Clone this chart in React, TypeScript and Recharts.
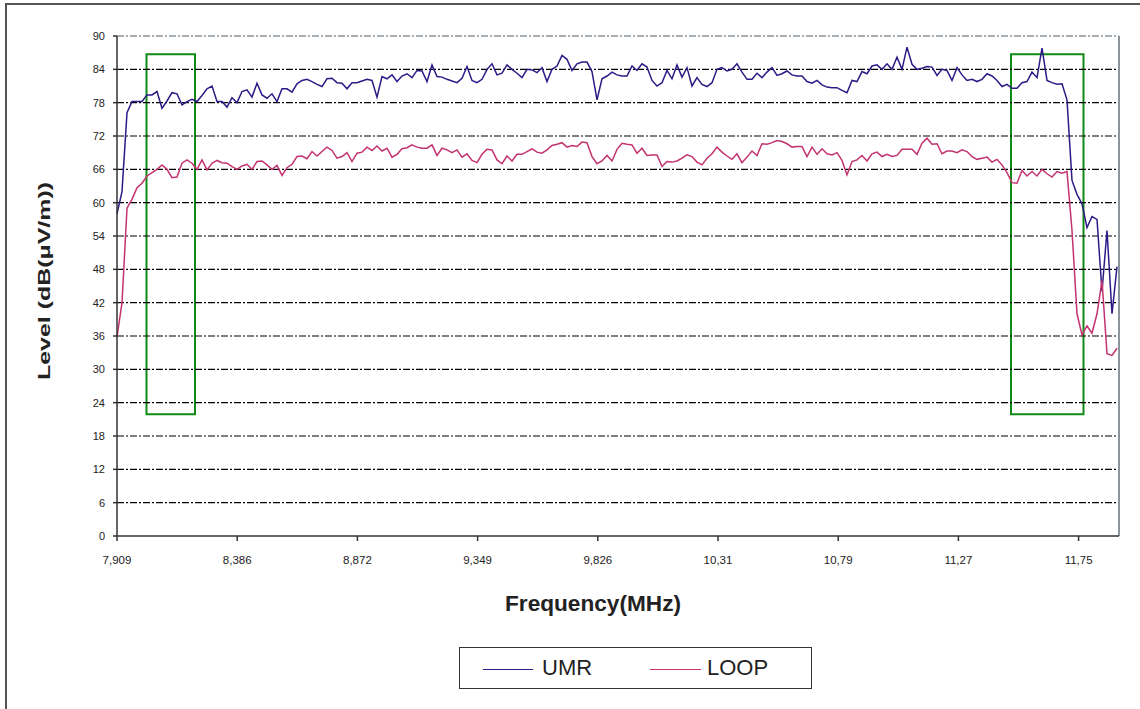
import React from 'react';
import { LineChart, Line, XAxis, YAxis, ReferenceLine, ReferenceArea, Label } from 'recharts';

// x tick labels (Frequency, MHz) shown every SAMPLES_PER_TICK samples
const TICK_LABELS = ['7,909', '8,386', '8,872', '9,349', '9,826', '10,31', '10,79', '11,27', '11,75'];
const SAMPLES_PER_TICK = 24.04;
const X_MAX = 200.4;

const Y_TICKS = [0, 6, 12, 18, 24, 30, 36, 42, 48, 54, 60, 66, 72, 78, 84, 90];
const GRID_LEVELS = [6, 12, 18, 24, 30, 36, 42, 48, 54, 60, 66, 72, 78, 84];

// UMR level, dB(uV/m)
const UMR = [
  58, 62, 76.2, 78.2, 78.2, 78.2, 79.4, 79.4, 80, 77,
  78.3, 79.8, 79.6, 77.6, 78.2, 78.6, 78.2, 79.3, 80.5, 81,
  78.2, 78.2, 77.2, 78.9, 78, 80, 80.3, 79, 81.5, 79.4,
  78.8, 79.6, 78.2, 80.5, 80.5, 79.9, 81.4, 82, 82.2, 81.8,
  81.3, 80.9, 82.3, 82.4, 81.6, 81.5, 80.5, 81.6, 81.6, 81.9,
  82.2, 82, 79, 82.7, 82.3, 83, 81.8, 82.8, 83.2, 82.5,
  83.8, 83.7, 81.8, 84.8, 82.7, 82.6, 82.2, 81.9, 81.6, 82.4,
  84.5, 82, 81.6, 82.2, 84, 85, 83, 83.3, 84.8, 84,
  83.3, 82.5, 84, 83.9, 83.4, 84.3, 81.8, 84, 84.6, 86.5,
  85.8, 83.8, 85, 85.3, 85.3, 83.6, 78.5, 82.3, 82.8, 83.5,
  83, 82.8, 82.8, 84.6, 83.8, 85, 84.4, 82, 81, 81.6,
  83.8, 82.3, 84.8, 82.6, 84.3, 81, 82.5, 81.3, 80.9, 81.6,
  84, 84.3, 83.7, 84, 85, 83.5, 82.2, 82.2, 83.3, 82.5,
  83.5, 84.3, 82.9, 83.2, 83.7, 83, 82.8, 82.8, 81.8, 81.5,
  82, 81.2, 80.8, 80.7, 80.7, 80.2, 79.8, 82, 81.8, 83.6,
  83.2, 84.6, 84.8, 84, 85, 84, 86.2, 84, 88, 84.9,
  84, 84.2, 84.5, 84.4, 82.9, 84, 83.8, 82, 84.3, 83,
  82, 82.2, 81.8, 82.2, 83.2, 82.8, 82, 80.9, 81.3, 80.6,
  80.6, 81.6, 81.8, 83.5, 82.5, 87.8, 82, 81.6, 81.3, 81.4,
  78.5, 64, 61.5, 59.8, 55.5, 57.5, 57, 44, 55, 40, 48.5,
];

// LOOP level, dB(uV/m)
const LOOP = [
  35.8, 42, 59, 60.6, 62.7, 63.5, 64.8, 65.4, 66, 66.8,
  66, 64.5, 64.6, 67.1, 67.7, 67.1, 66, 67.7, 65.9, 67.1,
  67.6, 67.2, 67.1, 66.5, 66, 66.6, 66.9, 66, 67.4, 67.5,
  66.8, 66, 66.7, 64.9, 66.3, 66.9, 68.3, 68.4, 67.9, 69.2,
  68.4, 69.2, 70, 69.4, 68, 68.3, 69, 67.4, 68.9, 69.1,
  70, 69.4, 70.2, 69.3, 69.8, 68.2, 68.7, 69.7, 69.9, 70.4,
  70, 69.8, 69.8, 70.4, 68.5, 69.8, 69.5, 69, 69.5, 68.2,
  68.8, 67.6, 67.2, 68.7, 69.6, 69.5, 67.7, 67, 68.4, 67.5,
  68.7, 68.7, 69.2, 69.7, 69.1, 68.9, 69.5, 70.3, 70.5, 70.8,
  70, 70.3, 70.1, 70.9, 70.8, 68.3, 67, 67.5, 68.5, 67.5,
  69.6, 70.7, 70.5, 70.4, 68.9, 69.8, 68.5, 68.6, 68.6, 66.5,
  67.4, 67.3, 67.5, 68, 68.6, 68.3, 67.3, 66.8, 68, 68.8,
  70, 69.1, 68.4, 67.8, 68.8, 67.2, 68.2, 69.3, 68.5, 70.6,
  70.5, 70.8, 71.2, 71, 70.6, 70, 70.1, 70.1, 68.3, 70,
  68.7, 69.7, 68.8, 68.6, 69, 67.6, 65, 67.4, 67.7, 68.5,
  67.5, 68.8, 69.1, 68.3, 68.7, 68.3, 68.5, 69.6, 69.6, 69.6,
  68.7, 70.7, 71.6, 70.5, 70.6, 68.8, 69.3, 69.3, 69, 69.5,
  69.2, 68.3, 67.8, 68, 68.2, 67.3, 67.8, 66.8, 65.4, 63.6,
  63.5, 65.8, 64.8, 65.6, 64.8, 66, 65.2, 64.6, 65.6, 65.3,
  65.6, 55, 40, 36.2, 37.8, 36.5, 40, 46, 32.8, 32.5, 33.8,
];

// highlighted regions (sample index, level)
const BOX_X1 = [5.9, 178.8];
const BOX_X2 = [15.6, 193.3];
const BOX_Y = [21.9, 86.7];

const data = UMR.map((v, i) => ({ i, umr: v, loop: LOOP[i] }));
const xTicks = TICK_LABELS.map((_, k) => k * SAMPLES_PER_TICK);

const FONT = '"Liberation Sans", Arial, sans-serif';
const UMR_COLOR = '#2e1a86';
const LOOP_COLOR = '#c2336f';

export default function App() {
  return (
    <div style={{ position: 'absolute', left: 0, top: 0, width: 1140, height: 709, overflow: 'hidden', background: '#fff', fontFamily: FONT }}>
      <div style={{ position: 'absolute', left: 5, top: 3, width: 1200, height: 800, borderLeft: '2px solid #555', borderTop: '2px solid #555' }} />
      <LineChart width={1140} height={709} data={data} margin={{ top: 36, right: 21, bottom: 143, left: 0 }}>
        <XAxis
          dataKey="i"
          type="number"
          domain={[0, X_MAX]}
          ticks={xTicks}
          tickFormatter={(v: number) => TICK_LABELS[Math.round(v / SAMPLES_PER_TICK)]}
          interval={0}
          height={30}
          tickSize={5}
          tickMargin={15}
          axisLine={{ stroke: '#333', strokeWidth: 1.5 }}
          tickLine={{ stroke: '#333', strokeWidth: 1.5 }}
          tick={{ fill: '#222', fontSize: 11.5, fontFamily: FONT }}
        >
          <Label
            content={() => (
              <text x={593} y={611} textAnchor="middle" fontFamily={FONT} fontWeight="bold" fontSize={22} fill="#222" textLength={176} lengthAdjust="spacingAndGlyphs">
                Frequency(MHz)
              </text>
            )}
          />
        </XAxis>
        <YAxis
          type="number"
          domain={[0, 90]}
          ticks={Y_TICKS}
          interval={0}
          width={117}
          tickSize={4}
          tickMargin={8}
          axisLine={{ stroke: '#333', strokeWidth: 1.5 }}
          tickLine={{ stroke: '#333', strokeWidth: 1.5 }}
          tick={{ fill: '#222', fontSize: 11, fontFamily: FONT }}
        >
          <Label
            content={() => (
              <text x={50} y={281} transform="rotate(-90 50 281)" textAnchor="middle" fontFamily={FONT} fontWeight="bold" fontSize={16} fill="#222" textLength={198} lengthAdjust="spacingAndGlyphs">
                Level (dB(μV/m))
              </text>
            )}
          />
        </YAxis>
        {GRID_LEVELS.map((g) => (
          <ReferenceLine key={g} y={g} stroke="#000" strokeWidth={1.2} strokeDasharray="7 2 2 2" />
        ))}
        <ReferenceLine y={90} stroke="#8c959c" strokeWidth={1.5} strokeDasharray="7 2 2 2" />
        <ReferenceLine x={X_MAX} stroke="#8c959c" strokeWidth={2} />
        <Line type="linear" dataKey="umr" stroke={UMR_COLOR} strokeWidth={1.5} dot={false} isAnimationActive={false} />
        <Line type="linear" dataKey="loop" stroke={LOOP_COLOR} strokeWidth={1.5} dot={false} isAnimationActive={false} />
        {BOX_X1.map((x1, k) => (
          <ReferenceArea key={k} x1={x1} x2={BOX_X2[k]} y1={BOX_Y[0]} y2={BOX_Y[1]} fill="none" fillOpacity={0} stroke="#0f8a14" strokeWidth={2} />
        ))}
      </LineChart>
      <div style={{ position: 'absolute', left: 459, top: 647, width: 351, height: 40, border: '1.5px solid #333' }}>
        <div style={{ position: 'absolute', left: 23, top: 21, width: 50, height: 0, borderTop: `1.5px solid ${UMR_COLOR}` }} />
        <div style={{ position: 'absolute', left: 82, top: 8, fontSize: 22, lineHeight: '24px', color: '#222' }}>UMR</div>
        <div style={{ position: 'absolute', left: 190, top: 21, width: 51, height: 0, borderTop: `1.5px solid ${LOOP_COLOR}` }} />
        <div style={{ position: 'absolute', left: 247, top: 8, fontSize: 22, lineHeight: '24px', color: '#222' }}>LOOP</div>
      </div>
    </div>
  );
}
